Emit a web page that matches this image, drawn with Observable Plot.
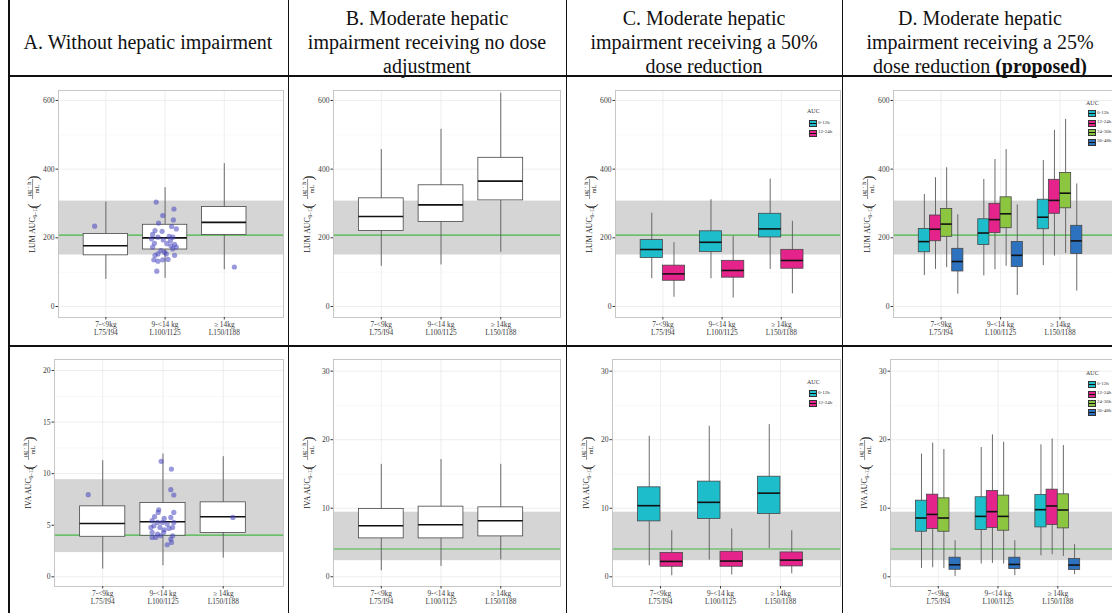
<!DOCTYPE html>
<html><head><meta charset="utf-8">
<script src="https://cdn.jsdelivr.net/npm/d3@7"></script>
<script src="https://cdn.jsdelivr.net/npm/@observablehq/plot@0.6"></script>
<style>
html,body{margin:0;padding:0;background:#fff;}
#page{position:relative;width:1112px;height:613px;overflow:hidden;background:#fff;font-family:"Liberation Serif",serif;}
.hdr{position:absolute;text-align:center;font-size:20px;line-height:24px;color:#111;white-space:nowrap;}
.ln{position:absolute;background:#111;z-index:5;}
.leg{position:absolute;font-family:"Liberation Serif",serif;color:#333;z-index:4;white-space:nowrap;}
.key{position:absolute;width:6px;height:5px;border:0.6px solid #333;z-index:4;}
.key::after{content:"";position:absolute;left:0;right:0;top:2px;height:1px;background:#111;}
</style></head><body><div id="page"></div>
<script>
// ---------- data ----------
const cats = ["7-<9kg\nL75/I94", "9-<14 kg\nL100/I125", "≥ 14kg\nL150/I188"];
const aucGroups = ["0-12h", "12-24h", "24-36h", "36-48h"];
const aucColors = ["#1ebdcc", "#e4238b", "#8cc540", "#2c72bf"];
const headerA = ["A. Without hepatic impairment"];
const headerB = ["B. Moderate hepatic", "impairment receiving no dose", "adjustment"];
const headerC = ["C. Moderate hepatic", "impairment receiving a 50%", "dose reduction"];
const headerD = ["D. Moderate hepatic", "impairment receiving a 25%", "dose reduction "];
const headerDBold = "(proposed)";

// five-number rows per weight group: [lower whisker, Q1, median, Q3, upper whisker]
const lumA = [[79,149,177,211,304],[82,166,200,238,346],[107,208,245,290,416]];
const lumB = [[117,220,262,315,457],[121,246,296,353,516],[158,309,365,433,621]];
const lumC0 = [[81,141,166,194,272],[81,159,187,219,311],[108,201,226,270,371]];
const lumC1 = [[27,75,95,119,186],[25,84,105,133,205],[37,110,134,165,248]];
const lumD0 = [[90,158,189,226,326],[89,179,214,254,370],[119,225,260,311,425]];
const lumD1 = [[108,190,225,265,375],[107,214,253,299,428],[147,270,309,369,513]];
const lumD2 = [[113,203,240,284,404],[117,228,270,318,457],[155,286,330,389,545]];
const lumD3 = [[36,102,131,168,267],[32,115,149,188,296],[45,153,191,235,357]];

const ivaA = [[0.75,3.88,5.17,6.83,11.26],[1.07,3.98,5.34,7.16,11.9],[1.81,4.24,5.83,7.22,11.65]];
const ivaB = [[0.88,5.6,7.45,9.89,16.4],[1.51,5.6,7.6,10.23,17.1],[2.48,5.89,8.18,10.13,16.4]];
const ivaC0 = [[1.6,8.08,10.37,13.05,20.5],[2.43,8.43,10.86,13.88,21.96],[4.14,9.16,12.2,14.6,22.2]];
const ivaC1 = [[0.15,1.46,2.24,3.46,6.72],[0.24,1.46,2.29,3.65,6.97],[0.44,1.51,2.43,3.55,6.72]];
const ivaD0 = [[1.22,6.57,8.57,11.1,17.9],[1.85,6.82,8.81,11.6,18.85],[3.07,7.2,9.79,11.94,19.24]];
const ivaD1 = [[1.31,6.97,9.1,11.98,19.5],[1.95,7.12,9.5,12.52,20.7],[3.21,7.55,10.33,12.71,20.1]];
const ivaD2 = [[1.22,6.57,8.57,11.44,18.56],[1.85,6.72,8.81,11.84,19.63],[2.97,7.06,9.74,12.03,19.14]];
const ivaD3 = [[0.05,1.02,1.75,2.78,5.26],[0.15,1.12,1.8,2.78,5.26],[0.29,0.98,1.71,2.59,4.68]];

// reference range (grey band) and target (green line)
const lumBand = [150, 307];
const lumTarget = [208];
const ivaBand = [2.35, 9.42];
const ivaTarget = [4.05];

// observed individuals in panel A: [weight group, jitter, value]
const lumPoints = [[1,-0.19,234],[3,0.17,115],
  [2,-0.15,304],[2,-0.04,265],[2,0.15,284],[2,0.14,252],[2,-0.11,243],[2,0.11,233],[2,0.19,226],[2,-0.17,221],
  [2,-0.05,219],[2,0.07,204],[2,0.13,202],[2,-0.12,202],[2,-0.23,197],[2,-0.03,194],[2,-0.18,184],[2,0.09,192],
  [2,0.16,181],[2,0.19,173],[2,0.13,168],[2,-0.07,163],[2,-0.21,173],[2,-0.01,158],[2,-0.12,153],[2,0.02,153],
  [2,0.16,149],[2,-0.17,149],[2,-0.19,136],[2,-0.12,132],[2,-0.04,136],[2,0.05,137],[2,-0.14,103],[2,0.10,177],
  [2,-0.21,210],[2,0.03,183]];
const ivaPoints = [[1,-0.24,7.96],[3,0.16,5.76],
  [2,-0.03,11.2],[2,0.14,10.45],[2,0.13,8.45],[2,0.18,7.93],[2,-0.07,6.5],[2,-0.08,6.24],[2,0.18,6.24],[2,-0.14,5.83],
  [2,0.02,5.66],[2,0.13,5.76],[2,-0.18,5.44],[2,-0.09,5.27],[2,-0.01,5.27],[2,0.07,5.11],[2,-0.2,4.79],[2,-0.15,4.95],
  [2,-0.05,4.79],[2,0.10,4.69],[2,0.16,4.79],[2,0.02,4.56],[2,-0.18,4.30],[2,-0.09,4.14],[2,0.16,3.98],[2,-0.18,3.82],
  [2,-0.12,3.82],[2,-0.04,3.98],[2,0.13,3.66],[2,0.14,3.33],[2,0.07,3.11],[2,0.01,4.3],[2,0.18,5.27]];

const lumTicks = [0,200,400,600], lumMinor = [100,300,500];
const ivaTicksA = [0,5,10,15,20], ivaMinorA = [2.5,7.5,12.5,17.5];
const ivaTicks = [0,10,20,30], ivaMinor = [5,15,25];

// ---------- layout ----------
const page = document.getElementById("page");
const rows = [
  {top:78, bottom:345, frameT:90, frameB:317, labelY:207},
  {top:348, bottom:613, frameT:359, frameB:586, labelY:468}
];
const ML = 55, MR = 5;

const panels = [
  {row:0, fl:58, fr:283, yd:[-32,629], ticks:lumTicks, minor:lumMinor, series:[{s:lumA,f:"white"}], band:lumBand, target:lumTarget, pts:lumPoints, name:"LUM"},
  {row:0, fl:333, fr:560, yd:[-32,629], ticks:lumTicks, minor:lumMinor, series:[{s:lumB,f:"white"}], band:lumBand, target:lumTarget, name:"LUM"},
  {row:0, fl:615, fr:840, yd:[-32,629], ticks:lumTicks, minor:lumMinor, series:[{s:lumC0,f:aucColors[0]},{s:lumC1,f:aucColors[1]}], band:lumBand, target:lumTarget, name:"LUM"},
  {row:0, fl:893, fr:1119, yd:[-32,629], ticks:lumTicks, minor:lumMinor, series:[{s:lumD0,f:aucColors[0]},{s:lumD1,f:aucColors[1]},{s:lumD2,f:aucColors[2]},{s:lumD3,f:aucColors[3]}], band:lumBand, target:lumTarget, name:"LUM"},
  {row:1, fl:54, fr:283, yd:[-0.94,21.07], ticks:ivaTicksA, minor:ivaMinorA, series:[{s:ivaA,f:"white"}], band:ivaBand, target:ivaTarget, pts:ivaPoints, name:"IVA"},
  {row:1, fl:333, fr:560, yd:[-1.42,31.7], ticks:ivaTicks, minor:ivaMinor, series:[{s:ivaB,f:"white"}], band:ivaBand, target:ivaTarget, name:"IVA"},
  {row:1, fl:612, fr:840, yd:[-1.42,31.7], ticks:ivaTicks, minor:ivaMinor, series:[{s:ivaC0,f:aucColors[0]},{s:ivaC1,f:aucColors[1]}], band:ivaBand, target:ivaTarget, name:"IVA"},
  {row:1, fl:890, fr:1117, yd:[-1.42,31.7], ticks:ivaTicks, minor:ivaMinor, series:[{s:ivaD0,f:aucColors[0]},{s:ivaD1,f:aucColors[1]},{s:ivaD2,f:aucColors[2]},{s:ivaD3,f:aucColors[3]}], band:ivaBand, target:ivaTarget, name:"IVA"}
];

function boxRows(series){
  const n = series.length, w = 0.75 / n, out = [];
  series.forEach((g, gi) => g.s.forEach((st, ci) => {
    const xc = ci + 1 + (gi - (n - 1) / 2) * w;
    out.push({x:xc, x1:xc - w/2, x2:xc + w/2, lo:st[0], q1:st[1], med:st[2], q3:st[3], hi:st[4], fill:g.f});
  }));
  return out;
}

function addYLabel(svg, name, x, y){
  const g = d3.select(svg).append("g")
    .attr("transform", `translate(${x},${y}) rotate(-90)`)
    .attr("font-family", "Liberation Serif").attr("fill", "#222");
  const t = g.append("text").attr("text-anchor", "end").attr("font-size", 7.8);
  t.append("tspan").text(name + " AUC");
  t.append("tspan").attr("font-size", 5.2).attr("dy", 1.5).text("0–12");
  g.append("text").attr("x", 1).attr("y", 2.5).attr("font-size", 15).text("(");
  g.append("text").attr("x", 18).attr("y", -4).attr("font-size", 6.2).attr("text-anchor", "middle").text("μg · h");
  g.append("line").attr("x1", 8).attr("x2", 28).attr("y1", -2.4).attr("y2", -2.4).attr("stroke", "#222").attr("stroke-width", 0.5);
  g.append("text").attr("x", 18).attr("y", 3.8).attr("font-size", 6.2).attr("text-anchor", "middle").text("mL");
  g.append("text").attr("x", 29).attr("y", 2.5).attr("font-size", 15).text(")");
}

panels.forEach(p => {
  const r = rows[p.row];
  const W = (p.fr - p.fl) + ML + MR, H = r.bottom - r.top;
  const data = boxRows(p.series);
  const marks = [
    Plot.gridY(p.minor, {stroke:"#f1f1f1", strokeOpacity:1, strokeWidth:0.5}),
    Plot.gridY(p.ticks, {stroke:"#e6e6e6", strokeOpacity:1, strokeWidth:0.7}),
    Plot.gridX([1,2,3], {stroke:"#e6e6e6", strokeOpacity:1, strokeWidth:0.7}),
    Plot.rect([p.band], {y1: d => d[0], y2: d => d[1], fill:"#d5d5d5"}),
    Plot.ruleY(p.target, {stroke:"#45b845", strokeWidth:1.2}),
    Plot.ruleX(data, {x:"x", y1:"lo", y2:"hi", stroke:"#5a5a5a", strokeWidth:0.9}),
    Plot.rect(data, {x1:"x1", x2:"x2", y1:"q1", y2:"q3", fill:"fill", stroke:"#474747", strokeWidth:0.8}),
    Plot.ruleY(data, {y:"med", x1:"x1", x2:"x2", stroke:"#111", strokeWidth:1.6})
  ];
  if (p.pts) marks.push(Plot.dot(p.pts, {x: d => d[0] + d[1], y: d => d[2], r:2.6, fill:"#4646bd", fillOpacity:0.55, stroke:"none"}));
  marks.push(
    Plot.frame({stroke:"#c2c2c2", strokeWidth:0.9}),
    Plot.axisY(p.ticks, {tickSize:2.5, tickPadding:1.5, fontSize:7.6, color:"#3a3a3a", label:null}),
    Plot.axisX([1,2,3], {tickSize:2.5, tickPadding:1, tickFormat: i => cats[i-1], fontSize:7.4, lineHeight:1.1, color:"#3a3a3a", label:null})
  );
  const svg = Plot.plot({
    width: W, height: H,
    marginLeft: ML, marginRight: MR, marginTop: r.frameT - r.top, marginBottom: r.bottom - r.frameB,
    x: {type:"linear", domain:[0.2, 4.0], axis:null},
    y: {domain:p.yd, axis:null},
    color: {type:"identity"},
    style: {background:"transparent", fontFamily:"Liberation Serif", overflow:"visible"},
    marks
  });
  addYLabel(svg, p.name, ML - 23, r.labelY - r.top);
  svg.style.position = "absolute";
  svg.style.left = (p.fl - ML) + "px";
  svg.style.top = r.top + "px";
  svg.style.zIndex = 1;
  page.appendChild(svg);
});

// legends
function legend(left, titleY, firstKeyY, gap, n){
  const t = document.createElement("div");
  t.className = "leg"; t.style.left = left + "px"; t.style.top = (titleY - 4) + "px"; t.style.fontSize = "6px";
  t.textContent = "AUC"; page.appendChild(t);
  for (let i = 0; i < n; i++){
    const k = document.createElement("div");
    k.className = "key"; k.style.left = (left + 1.6) + "px"; k.style.top = (firstKeyY + i*gap - 3) + "px";
    k.style.background = aucColors[i]; page.appendChild(k);
    const l = document.createElement("div");
    l.className = "leg"; l.style.left = (left + 11) + "px"; l.style.top = (firstKeyY + i*gap - 3.5) + "px"; l.style.fontSize = "5px";
    l.textContent = aucGroups[i]; page.appendChild(l);
  }
}
legend(807, 112, 123, 9.7, 2);
legend(807, 383, 393.3, 9.7, 2);
legend(1086, 104, 113.3, 9.5, 4);
legend(1086, 374, 384.3, 9.2, 4);

// header texts
function header(lines, cx, cy, bold){
  const d = document.createElement("div");
  d.className = "hdr";
  d.style.left = (cx - 150) + "px"; d.style.width = "300px";
  d.style.top = (cy - lines.length * 12) + "px";
  lines.forEach((s, i) => {
    const sp = document.createElement("div");
    sp.textContent = s;
    if (bold && i === lines.length - 1){ const b = document.createElement("b"); b.textContent = bold; sp.appendChild(b); }
    d.appendChild(sp);
  });
  page.appendChild(d);
}
header(headerA, 148, 42);
header(headerB, 427, 42);
header(headerC, 704, 42);
header(headerD, 980, 42, headerDBold);

// table lines
function line(x, y, w, h){
  const d = document.createElement("div"); d.className = "ln";
  d.style.left = x + "px"; d.style.top = y + "px"; d.style.width = w + "px"; d.style.height = h + "px";
  page.appendChild(d);
}
[8, 287.5, 565.5, 841.5].forEach(x => line(x, 0, 1.6, 613));
line(8, 75.2, 1104, 1.6);
line(8, 345, 1104, 1.6);
</script></body></html>
